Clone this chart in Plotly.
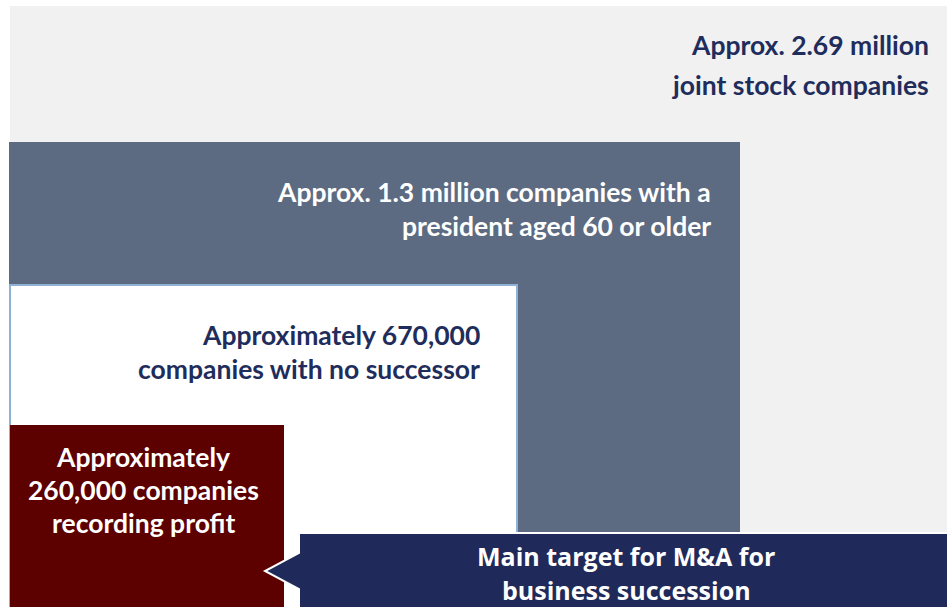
import plotly.graph_objects as go

# ---- data ----
segments = ["joint stock companies", "president aged 60+", "no successor", "recording profit"]
counts = [2690000, 1300000, 670000, 260000]
label_lines = [
    ["Approx. 2.69 million", "joint stock companies"],
    ["Approx. 1.3 million companies with a", "president aged 60 or older"],
    ["Approximately 670,000", "companies with no successor"],
    ["Approximately", "260,000 companies", "recording profit"],
]
callout_lines = ["Main target for M&A for", "business succession"]

# ---- styling / geometry (pixel space) ----
W, H = 947, 607
boxes = [  # x0, x1, y0, y1
    (10, W + 2, 6, H + 2),
    (9, 740, 142, H + 2),
    (10, 517, 285, H + 2),
    (10, 284, 425, H + 2),
]
fills = ["#f1f1f1", "#5d6b82", "#ffffff", "#5c0000"]
borders = [None, None, "#8fb1d4", None]
text_colors = ["#1f2d5c", "#ffffff", "#1f2d5c", "#ffffff"]
text_x = [931, 713, 482, 143]
text_anchor = ["right", "right", "right", "center"]
text_y = [[45, 85], [192, 226], [335, 369], [457, 490, 523]]

FONT = "Lato"
FS = 26.5

fig = go.Figure()
shapes = []
for (x0, x1, y0, y1), fc, bc in zip(boxes, fills, borders):
    shapes.append(dict(type="rect", xref="x", yref="y", x0=x0, x1=x1, y0=y0, y1=y1,
                       fillcolor=fc, layer="below",
                       line=dict(color=bc if bc else fc, width=2 if bc else 0)))

# callout with arrow
cx0, cx1, cy0, cy1 = 299, W + 4, 533, H + 4
tip_x, tip_y = 265, 571
path = (f"M {cx0},{cy0} L {cx1},{cy0} L {cx1},{cy1} L {cx0},{cy1} "
        f"L {cx0},589 L {tip_x},{tip_y} L {cx0},553 Z")
shapes.append(dict(type="path", xref="x", yref="y", path=path,
                   fillcolor="#1f2a5a", line=dict(color="#ffffff", width=2), layer="below"))

annotations = []
for lines, ys, tx, anc, col in zip(label_lines, text_y, text_x, text_anchor, text_colors):
    for line, y in zip(lines, ys):
        annotations.append(dict(x=tx, y=y, xref="x", yref="y", text=line, showarrow=False,
                                xanchor=anc, yanchor="middle",
                                font=dict(family=FONT, size=FS, color=col, weight="bold")))
for line, y in zip(callout_lines, [556, 590]):
    annotations.append(dict(x=626, y=y, xref="x", yref="y", text=line, showarrow=False,
                            xanchor="center", yanchor="middle",
                            font=dict(family="Open Sans", size=25, color="#ffffff", weight="bold")))

# invisible trace to anchor axes
fig.add_trace(go.Scatter(x=[0, W], y=[0, H], mode="markers", marker=dict(opacity=0),
                         hoverinfo="skip", showlegend=False))

fig.update_layout(
    width=W, height=H, margin=dict(l=0, r=0, t=0, b=0),
    paper_bgcolor="#ffffff", plot_bgcolor="#ffffff",
    xaxis=dict(range=[0, W], visible=False, fixedrange=True),
    yaxis=dict(range=[H, 0], visible=False, fixedrange=True),
    shapes=shapes, annotations=annotations,
)
fig.write_html("out.html", config={"displayModeBar": False},
               post_script="document.body.style.margin='0';document.body.style.overflow='hidden';")
